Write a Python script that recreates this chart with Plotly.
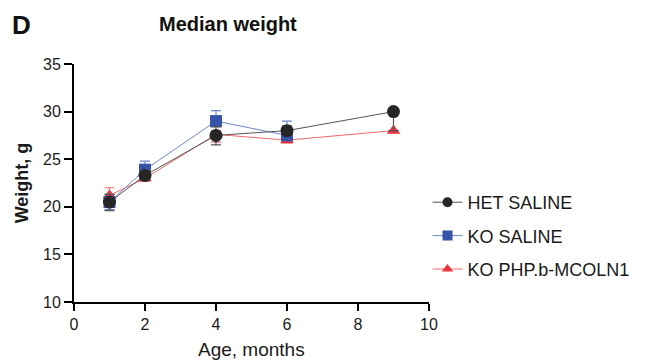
import plotly.graph_objects as go

months_het = [1, 2, 4, 6, 9]
het_saline = [20.5, 23.3, 27.5, 28.0, 30.0]
het_err_plus = [0.8, 0.5, 0.9, 0.5, 0.0]
het_err_minus = [0.9, 0.5, 1.0, 0.5, 2.0]

months_ko = [1, 2, 4, 6]
ko_saline = [20.5, 23.9, 29.0, 27.5]
ko_err_plus = [0.8, 0.9, 1.1, 1.5]
ko_err_minus = [0.8, 0.9, 0.5, 0.5]

months_php = [1, 2, 4, 6, 9]
ko_php = [21.2, 23.0, 27.6, 27.0, 28.0]
php_err_plus = [0.8, 0.3, 0.4, 1.3, 0.0]
php_err_minus = [0.7, 0.3, 0.8, 0.3, 0.0]

x_ticks = [0, 2, 4, 6, 8, 10]
y_ticks = [10, 15, 20, 25, 30, 35]

FONT = "Liberation Sans, Arial, sans-serif"

W, H = 641, 356
L, T, PW, PH = 64, 56, 357, 238

fig = go.Figure()

series = [
    ("KO PHP.b-MCOLN1", months_php, ko_php, php_err_plus, php_err_minus,
     "#e8343c", "#ef6a6e", "triangle-up", 12),
    ("KO SALINE", months_ko, ko_saline, ko_err_plus, ko_err_minus,
     "#3553a8", "#7088c8", "square", 12),
    ("HET SALINE", months_het, het_saline, het_err_plus, het_err_minus,
     "#262626", "#555555", "circle", 13),
]

for name, x, y, ep, em, color, lc, sym, size in series:
    fig.add_trace(go.Scatter(
        x=x, y=y, name=name, mode="lines+markers", showlegend=False,
        line=dict(color=lc, width=1),
        marker=dict(color=color, symbol=sym, size=size, line=dict(width=0)),
        error_y=dict(type="data", symmetric=False, array=ep, arrayminus=em,
                     color=lc, thickness=1.2, width=5),
    ))

for name, x, y, ep, em, color, lc, sym, size in reversed(series):
    fig.add_trace(go.Scatter(
        x=[None], y=[None], name=name, mode="lines+markers",
        legendgroup=name,
        line=dict(color=lc, width=1),
        marker=dict(color=color, symbol=sym, size=10, line=dict(width=0)),
    ))

fig.update_layout(
    width=W, height=H,
    margin=dict(l=L, r=W - L - PW, t=T, b=H - T - PH),
    plot_bgcolor="white", paper_bgcolor="white",
    font=dict(family=FONT, size=16, color="#1a1a1a"),
    showlegend=True,
    legend=dict(x=(428 - 72.5) / PW, xanchor="left", y=(302 - 184) / PH, yanchor="top",
                font=dict(size=18), tracegroupgap=7,
                bgcolor="rgba(0,0,0,0)"),
    xaxis=dict(range=[0, 10], tickvals=x_ticks, showgrid=False, zeroline=False,
               showline=True, linecolor="black", linewidth=2,
               ticks="outside", ticklen=7, tickwidth=2, tickcolor="black"),
    yaxis=dict(range=[10, 35], tickvals=y_ticks, showgrid=False, zeroline=False,
               showline=True, linecolor="black", linewidth=2,
               ticks="outside", ticklen=8, tickwidth=2, tickcolor="black",
               title=dict(text="<b>Weight, g</b>", font=dict(size=18), standoff=10)),
    annotations=[
        dict(text="<b>D</b>", x=0, y=1, xref="paper", yref="paper",
             xanchor="left", yanchor="top", xshift=-64, yshift=56,
             showarrow=False, font=dict(size=26, color="#111")),
        dict(text="<b>Median weight</b>", x=(227 - 72.5) / PW, y=(302 - 24) / PH,
             xref="paper", yref="paper", xanchor="center", yanchor="middle",
             showarrow=False, font=dict(size=20, color="#111")),
        dict(text="Age, months", x=0.5, y=(302 - 349) / PH,
             xref="paper", yref="paper", xanchor="center", yanchor="middle",
             showarrow=False, font=dict(size=19, color="#1a1a1a")),
    ],
)

fig.write_html("out.html")
